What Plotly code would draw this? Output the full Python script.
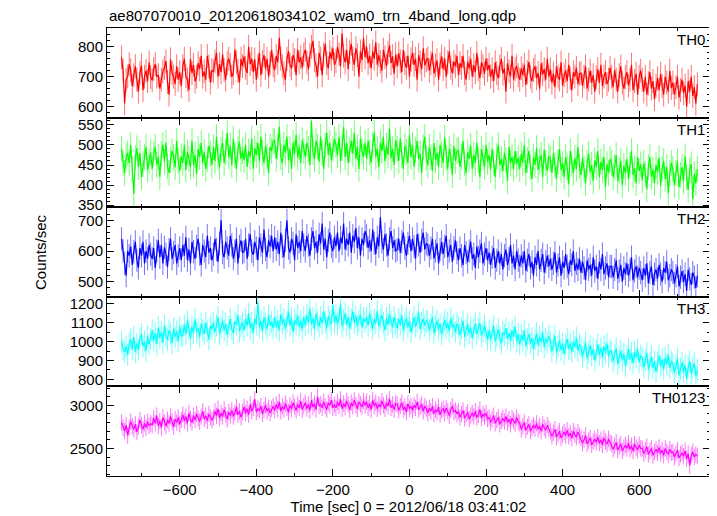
import plotly.graph_objects as go
from plotly.subplots import make_subplots

# time bins (seconds relative to 2012/06/18 03:41:02)
times = list(range(-752, 753, 4))

th0 = [765, 720, 610, 690, 700, 742, 722, 668, 705, 735, 690, 650, 712, 738, 655, 700, 720, 685, 748, 699,
       688, 725, 742, 700, 705, 660, 690, 718, 730, 752, 682, 640, 758, 712, 700, 676, 735, 690, 715, 668,
       735, 760, 702, 690, 655, 760, 712, 740, 684, 700, 745, 725, 770, 700, 718, 690, 770, 735, 680, 722,
       718, 752, 780, 700, 742, 715, 775, 722, 690, 745, 760, 738, 700, 712, 790, 748, 720, 680, 760, 735,
       768, 730, 712, 800, 742, 760, 715, 758, 690, 735, 780, 705, 750, 772, 728, 760, 700, 745, 790, 738,
       722, 770, 748, 830, 760, 735, 712, 690, 760, 785, 740, 728, 772, 755, 705, 790, 748, 765, 730, 775,
       790, 748, 725, 772, 800, 820, 755, 738, 700, 780, 760, 705, 775, 810, 745, 728, 782, 760, 795, 740,
       752, 800, 775, 735, 845, 770, 748, 790, 725, 782, 810, 760, 740, 795, 772, 700, 785, 755, 830, 765,
       800, 745, 770, 728, 785, 760, 815, 740, 772, 750, 720, 790, 765, 735, 780, 805, 745, 768, 710, 775,
       735, 778, 752, 715, 790, 745, 730, 770, 700, 758, 780, 740, 760, 690, 772, 748, 725, 795, 738, 755,
       762, 720, 745, 780, 710, 738, 755, 690, 742, 768, 725, 760, 700, 748, 785, 730, 712, 750, 735, 770,
       705, 745, 730, 770, 712, 690, 750, 728, 760, 700, 738, 715, 780, 725, 695, 748, 735, 710, 760, 722,
       740, 700, 725, 685, 748, 712, 695, 735, 760, 710, 728, 650, 745, 718, 700, 770, 690, 725, 735, 705,
       690, 728, 705, 740, 672, 715, 750, 700, 685, 722, 735, 695, 712, 660, 745, 708, 725, 690, 760, 700,
       725, 680, 710, 665, 735, 700, 690, 748, 670, 705, 720, 685, 740, 695, 655, 715, 700, 730, 675, 710,
       712, 670, 700, 735, 660, 690, 720, 680, 705, 650, 698, 725, 680, 740, 668, 700, 715, 675, 690, 730,
       700, 665, 722, 690, 650, 705, 735, 680, 660, 698, 715, 670, 690, 740, 655, 685, 710, 640, 700, 720,
       690, 650, 700, 640, 678, 715, 660, 685, 625, 670, 695, 655, 710, 668, 640, 700, 680, 650, 720, 662,
       680, 640, 665, 700, 630, 655, 690, 645, 670, 600, 685, 650, 700, 635, 665, 610, 675]

th1 = [490, 455, 430, 472, 480, 455, 500, 440, 378, 468, 492, 445, 480, 420, 452, 470, 495, 438, 460, 482,
       440, 478, 495, 450, 470, 420, 478, 500, 458, 505, 448, 430, 462, 485, 470, 445, 510, 460, 435, 472,
       455, 500, 438, 482, 465, 445, 510, 450, 475, 428, 490, 470, 505, 455, 482, 440, 465, 498, 478, 450,
       495, 460, 520, 470, 445, 488, 505, 455, 482, 530, 470, 498, 450, 515, 475, 440, 490, 508, 465, 485,
       462, 500, 445, 485, 470, 515, 440, 492, 475, 505, 460, 520, 480, 455, 498, 472, 430, 495, 485, 510,
       510, 465, 495, 545, 470, 455, 500, 480, 520, 462, 490, 440, 505, 478, 525, 468, 495, 455, 512, 485,
       470, 505, 490, 450, 560, 482, 465, 510, 495, 458, 520, 480, 440, 498, 530, 475, 505, 462, 490, 515,
       500, 475, 520, 460, 492, 545, 470, 505, 455, 488, 510, 478, 530, 465, 495, 440, 515, 485, 470, 505,
       465, 510, 480, 455, 500, 530, 470, 490, 445, 505, 485, 520, 460, 498, 475, 540, 468, 490, 450, 512,
       492, 460, 515, 475, 440, 498, 482, 455, 525, 470, 500, 445, 488, 510, 465, 478, 430, 495, 520, 468,
       450, 495, 470, 435, 505, 462, 480, 445, 500, 475, 455, 518, 468, 440, 490, 472, 425, 498, 460, 485,
       488, 445, 470, 510, 455, 430, 482, 465, 498, 440, 475, 455, 505, 462, 420, 490, 468, 445, 500, 458,
       475, 438, 490, 455, 420, 472, 500, 450, 465, 435, 480, 462, 410, 495, 455, 470, 440, 485, 452, 468,
       440, 478, 455, 500, 430, 462, 485, 445, 415, 470, 450, 492, 438, 460, 475, 420, 488, 455, 435, 472,
       465, 430, 480, 450, 415, 458, 490, 438, 455, 420, 470, 445, 402, 485, 452, 430, 468, 440, 495, 448,
       425, 468, 440, 405, 455, 478, 432, 450, 410, 462, 445, 485, 420, 458, 438, 470, 395, 452, 430, 465,
       455, 420, 445, 475, 410, 438, 460, 400, 448, 430, 465, 415, 450, 485, 425, 442, 405, 470, 435, 452,
       412, 455, 428, 390, 445, 470, 420, 438, 405, 450, 432, 468, 398, 440, 460, 415, 445, 380, 430, 455,
       440, 400, 430, 460, 395, 425, 445, 410, 472, 420, 388, 438, 452, 365, 428, 405, 440]

th2 = [640, 600, 560, 520, 600, 585, 615, 555, 598, 630, 570, 545, 610, 585, 630, 560, 600, 575, 620, 590,
       575, 610, 545, 600, 635, 580, 620, 560, 612, 590, 548, 605, 640, 575, 595, 620, 560, 585, 610, 570,
       620, 585, 645, 570, 605, 560, 630, 598, 575, 615, 640, 590, 555, 620, 600, 580, 650, 595, 610, 570,
       590, 640, 605, 565, 625, 700, 595, 580, 630, 610, 585, 650, 620, 575, 600, 640, 560, 615, 635, 595,
       598, 640, 575, 620, 655, 600, 588, 630, 610, 570, 645, 620, 595, 670, 605, 580, 635, 615, 650, 600,
       645, 605, 630, 590, 660, 615, 580, 635, 700, 610, 595, 640, 625, 570, 655, 610, 630, 600, 665, 620,
       600, 650, 620, 585, 640, 665, 610, 630, 595, 655, 625, 690, 605, 640, 580, 635, 660, 615, 600, 645,
       615, 660, 600, 645, 625, 690, 605, 640, 620, 660, 595, 650, 630, 675, 610, 645, 585, 640, 620, 665,
       650, 610, 635, 600, 670, 625, 590, 645, 615, 710, 630, 605, 655, 620, 585, 640, 665, 610, 635, 600,
       605, 640, 595, 630, 660, 610, 585, 625, 650, 600, 640, 615, 575, 655, 620, 595, 635, 660, 605, 625,
       620, 585, 610, 640, 575, 600, 625, 560, 605, 630, 590, 615, 650, 580, 600, 620, 565, 610, 635, 595,
       570, 610, 585, 555, 620, 595, 565, 600, 630, 575, 590, 545, 615, 580, 600, 625, 560, 590, 610, 570,
       595, 555, 580, 610, 545, 570, 600, 560, 590, 540, 585, 605, 555, 575, 620, 560, 585, 540, 600, 570,
       550, 585, 560, 600, 535, 570, 590, 545, 565, 520, 580, 555, 600, 540, 570, 590, 530, 565, 585, 550,
       575, 540, 560, 595, 530, 555, 580, 520, 565, 545, 590, 550, 525, 570, 555, 600, 535, 560, 540, 575,
       530, 565, 545, 505, 570, 540, 555, 520, 580, 535, 550, 510, 565, 540, 590, 525, 545, 560, 515, 550,
       550, 515, 540, 570, 510, 535, 555, 500, 545, 525, 560, 520, 540, 580, 505, 535, 550, 515, 545, 530,
       505, 545, 520, 560, 495, 530, 550, 490, 525, 540, 510, 555, 525, 500, 545, 530, 565, 505, 520, 540,
       530, 495, 520, 550, 485, 515, 535, 500, 525, 470, 540, 510, 490, 530, 515, 480, 520]

th3 = [1000, 960, 945, 975, 930, 990, 1010, 960, 1025, 945, 990, 955, 1020, 1040, 975, 1000, 950, 1030, 985, 1015,
       1060, 1005, 1045, 985, 1075, 1020, 1050, 995, 1085, 1030, 1010, 1060, 1040, 990, 1070, 1025, 1055, 1000, 1080, 1035,
       1030, 1090, 1040, 1110, 1065, 1015, 1080, 1045, 1120, 1050, 1070, 1025, 1095, 1060, 1040, 1100, 1055, 1010, 1085, 1065,
       1100, 1050, 1085, 1130, 1040, 1075, 1110, 1060, 1095, 1035, 1080, 1120, 1065, 1045, 1105, 1090, 1140, 1055, 1080, 1100,
       1060, 1120, 1085, 1150, 1070, 1100, 1045, 1125, 1090, 1210, 1075, 1110, 1055, 1130, 1095, 1065, 1140, 1085, 1105, 1070,
       1130, 1075, 1110, 1060, 1145, 1095, 1120, 1070, 1105, 1160, 1085, 1125, 1050, 1115, 1090, 1140, 1080, 1110, 1065, 1130,
       1085, 1140, 1100, 1175, 1090, 1125, 1065, 1150, 1110, 1080, 1130, 1095, 1160, 1105, 1070, 1135, 1115, 1090, 1195, 1100,
       1140, 1095, 1125, 1200, 1080, 1115, 1150, 1090, 1130, 1070, 1120, 1160, 1100, 1135, 1085, 1110, 1145, 1075, 1125, 1105,
       1130, 1085, 1150, 1110, 1070, 1120, 1095, 1165, 1080, 1115, 1140, 1100, 1060, 1125, 1090, 1145, 1105, 1075, 1130, 1095,
       1070, 1120, 1090, 1140, 1060, 1100, 1125, 1075, 1110, 1050, 1095, 1130, 1080, 1105, 1155, 1065, 1100, 1120, 1085, 1110,
       1105, 1060, 1090, 1130, 1045, 1085, 1110, 1065, 1095, 1040, 1080, 1115, 1070, 1100, 1055, 1125, 1075, 1090, 1050, 1095,
       1080, 1035, 1070, 1110, 1025, 1060, 1090, 1045, 1075, 1020, 1065, 1095, 1040, 1070, 1100, 1030, 1055, 1085, 1050, 1010,
       1060, 1010, 1045, 1085, 1000, 1030, 1065, 1020, 990, 1050, 1035, 1070, 1015, 1045, 1005, 1060, 1025, 1080, 1000, 1040,
       985, 1035, 1005, 1060, 975, 1015, 1040, 990, 1020, 960, 1010, 1045, 980, 1025, 1000, 1050, 970, 1015, 995, 1030,
       1000, 950, 985, 1030, 940, 975, 1005, 955, 990, 935, 980, 1015, 960, 990, 945, 1000, 970, 1020, 950, 985,
       970, 920, 955, 995, 910, 945, 980, 925, 960, 900, 950, 985, 930, 965, 915, 975, 940, 990, 920, 955,
       945, 895, 930, 965, 880, 915, 950, 900, 935, 870, 925, 960, 905, 940, 885, 945, 915, 960, 890, 925,
       910, 865, 900, 940, 850, 885, 920, 860, 895, 840, 890, 925, 870, 905, 855, 915, 880, 930, 860, 895,
       880, 835, 870, 910, 820, 855, 890, 840, 875, 800, 865, 895, 830, 860, 885, 815, 850]

th0123 = [2800, 2740, 2700, 2770, 2650, 2740, 2810, 2760, 2720, 2780, 2690, 2750, 2830, 2770, 2720, 2790, 2740, 2810, 2760, 2790,
          2770, 2850, 2790, 2880, 2760, 2820, 2740, 2860, 2800, 2760, 2830, 2790, 2870, 2810, 2750, 2840, 2800, 2860, 2780, 2830,
          2890, 2820, 2870, 2790, 2910, 2840, 2800, 2880, 2830, 2900, 2850, 2810, 2870, 2930, 2840, 2880, 2820, 2900, 2860, 2830,
          2860, 2930, 2880, 2960, 2850, 2910, 2870, 2950, 2890, 2840, 2920, 2880, 2940, 2870, 2910, 2980, 2890, 2930, 2860, 2920,
          2980, 2910, 2960, 2890, 3010, 2930, 2970, 3070, 2920, 2960, 2940, 2990, 2900, 2950, 3000, 2930, 2970, 2910, 2960, 2990,
          2940, 3010, 2960, 3040, 2930, 2990, 2950, 3020, 2970, 2920, 3000, 2960, 3030, 2980, 2940, 3010, 2970, 3050, 2950, 2990,
          3030, 2960, 3010, 2940, 3060, 2980, 3020, 2950, 3100, 2990, 3010, 2970, 3040, 2990, 2950, 3030, 3000, 3060, 2970, 3010,
          2970, 3040, 2990, 3070, 2960, 3020, 2980, 3050, 3010, 2950, 3030, 2990, 3060, 3000, 2960, 3040, 3010, 2980, 3050, 3000,
          3040, 2970, 3020, 2950, 3060, 2990, 3030, 2960, 3010, 2980, 3050, 3000, 2960, 3030, 2990, 3070, 2970, 3010, 2950, 3020,
          3010, 2940, 2990, 3030, 2950, 2980, 2920, 3020, 2960, 2990, 2940, 3000, 2970, 3040, 2950, 2980, 3010, 2930, 2990, 2960,
          2910, 2970, 2930, 2990, 2900, 2950, 2920, 2980, 2890, 2940, 2960, 2910, 2970, 2930, 2880, 2950, 2990, 2920, 2940, 2900,
          2930, 2860, 2900, 2940, 2850, 2890, 2920, 2840, 2880, 2910, 2870, 2930, 2860, 2890, 2950, 2850, 2900, 2870, 2910, 2840,
          2860, 2800, 2840, 2880, 2790, 2830, 2860, 2780, 2820, 2850, 2810, 2870, 2800, 2840, 2780, 2850, 2820, 2790, 2860, 2810,
          2790, 2720, 2760, 2800, 2710, 2750, 2780, 2700, 2740, 2770, 2730, 2790, 2720, 2760, 2700, 2780, 2740, 2710, 2770, 2730,
          2700, 2640, 2680, 2720, 2630, 2670, 2700, 2620, 2660, 2690, 2650, 2710, 2640, 2680, 2620, 2700, 2660, 2630, 2690, 2650,
          2620, 2560, 2600, 2650, 2550, 2590, 2620, 2540, 2580, 2610, 2570, 2630, 2560, 2600, 2540, 2620, 2580, 2550, 2610, 2570,
          2550, 2490, 2530, 2570, 2480, 2520, 2550, 2470, 2510, 2540, 2500, 2560, 2490, 2530, 2470, 2550, 2510, 2480, 2540, 2500,
          2500, 2440, 2480, 2520, 2430, 2470, 2500, 2420, 2460, 2490, 2450, 2510, 2440, 2480, 2420, 2500, 2460, 2430, 2490, 2450,
          2460, 2400, 2440, 2480, 2390, 2430, 2450, 2410, 2470, 2380, 2440, 2300, 2420, 2460, 2400, 2430, 2410]

# per-panel typical error bar half-length (counts/sec)
errors = [40, 32, 38, 58, 95]
names = ["TH0", "TH1", "TH2", "TH3", "TH0123"]
series = [th0, th1, th2, th3, th0123]
colors = ["#ff0000", "#00ff00", "#0000ff", "#00ffff", "#ff00ff"]
err_colors = ["rgba(255,0,0,0.55)", "rgba(0,255,0,0.55)", "rgba(0,0,255,0.55)",
              "rgba(0,255,255,0.55)", "rgba(255,0,255,0.55)"]
y_ranges = [[563, 863], [345, 568], [451, 743], [762, 1238], [2180, 3219]]
y_dticks = [100, 50, 100, 100, 500]
y_minor = [20, 10, 20, 50, 100]
x_range = [-790, 785]

FONT = "Liberation Sans, Arial, Helvetica, sans-serif"

fig = make_subplots(rows=5, cols=1, shared_xaxes=True, vertical_spacing=0)

for i in range(5):
    fig.add_trace(go.Scatter(
        x=times, y=series[i], mode="lines",
        line=dict(color=colors[i], width=1.2),
        error_y=dict(type="constant", value=errors[i], color=err_colors[i],
                     thickness=1, width=0),
        showlegend=False, name=names[i]), row=i + 1, col=1)
    fig.update_yaxes(range=y_ranges[i], dtick=y_dticks[i], tick0=0,
                     ticks="inside", ticklen=7, tickwidth=1, tickcolor="black",
                     minor=dict(dtick=y_minor[i], ticks="inside", ticklen=3,
                                tickcolor="black", tickwidth=1),
                     showline=True, linecolor="black", linewidth=1, mirror="allticks",
                     showgrid=False, zeroline=False,
                     tickfont=dict(size=15, color="black", family=FONT),
                     row=i + 1, col=1)
    fig.update_xaxes(range=x_range, dtick=200, tick0=0,
                     ticks="inside", ticklen=7, tickwidth=1, tickcolor="black",
                     minor=dict(dtick=100, ticks="inside", ticklen=3,
                                tickcolor="black", tickwidth=1),
                     showline=True, linecolor="black", linewidth=1, mirror="allticks",
                     showgrid=False, zeroline=False,
                     showticklabels=(i == 4),
                     tickfont=dict(size=15, color="black", family=FONT),
                     row=i + 1, col=1)
    axn = "" if i == 0 else str(i + 1)
    fig.add_annotation(text=names[i], xref="x%s domain" % axn, yref="y%s domain" % axn,
                       x=1, y=1, xanchor="right", yanchor="top", xshift=-3, yshift=-1,
                       showarrow=False, font=dict(size=15, color="black", family=FONT))

fig.update_xaxes(title=dict(text="Time [sec] 0 = 2012/06/18 03:41:02", standoff=2,
                            font=dict(size=15, color="black", family=FONT)),
                 row=5, col=1)

fig.add_annotation(text="ae807070010_20120618034102_wam0_trn_4band_long.qdp",
                   xref="paper", yref="paper", x=0, y=1, xanchor="left", yanchor="bottom",
                   yshift=2, showarrow=False, font=dict(size=15, color="black", family=FONT))
fig.add_annotation(text="Counts/sec", xref="paper", yref="paper", x=0, y=0.5,
                   xanchor="center", yanchor="middle", xshift=-67, textangle=-90,
                   showarrow=False, font=dict(size=15, color="black", family=FONT))

# page body adds an 8px margin; size the figure so the plot lands where the reference has it
fig.update_layout(width=709, height=508,
                  margin=dict(l=99, r=7, t=20, b=40),
                  paper_bgcolor="white", plot_bgcolor="white",
                  font=dict(family=FONT, color="black"))

fig.write_html("out.html")
